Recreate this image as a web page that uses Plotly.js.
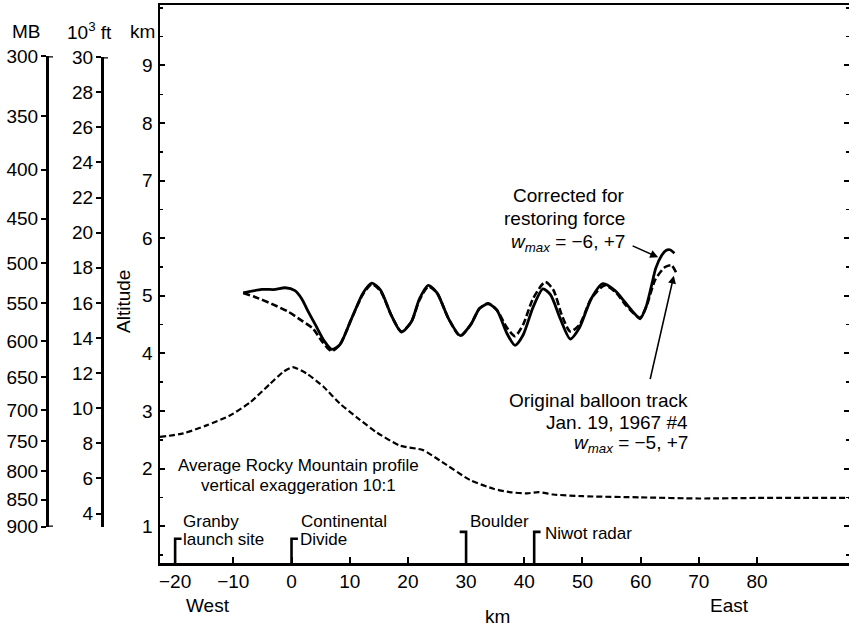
<!DOCTYPE html>
<html>
<head>
<meta charset="utf-8">
<script src="https://cdn.plot.ly/plotly-3.0.1.min.js"></script>
<style>
  html, body { margin: 0; padding: 0; background: #fff; }
  #chart { width: 849px; height: 627px; }
</style>
</head>
<body>
<div id="chart"></div>
<script>
// Horizontal distance in km (west negative, Continental Divide = 0), altitude in km
const terrainKm  = [-22.6, -18.6, -14.6, -10.6, -7.1, -3.7, -1.4, 0.2, 2.6, 5.5, 8.3, 11.2, 14.6, 18.6, 22.6, 25.5, 30.7, 34.7, 37.5, 40.5, 42.5, 45, 50, 60, 70, 80, 95.8];
const terrainAlt = [2.55, 2.61, 2.75, 2.92, 3.15, 3.47, 3.68, 3.76, 3.65, 3.42, 3.13, 2.89, 2.63, 2.40, 2.32, 2.14, 1.80, 1.65, 1.59, 1.57, 1.59, 1.55, 1.52, 1.50, 1.48, 1.49, 1.49];

// Balloon track corrected for restoring force (solid)
const correctedKm  = [-8.3, -5.1, -2.8, -1.1, 0.6, 1.75, 2.9, 4.3, 5.6, 6.9, 8.3, 10.3, 12.3, 13.8, 15.3, 17.2, 18.9, 20.6, 22.0, 23.5, 25.0, 27.0, 29.0, 30.8, 32.3, 33.8, 35.3, 37.0, 38.4, 39.8, 41.5, 43.2, 44.5, 46.2, 47.9, 49.5, 51.5, 53.5, 55.6, 57.3, 58.7, 59.9, 60.9, 61.8, 62.6, 63.6, 64.4, 65.0, 65.8];
const correctedAlt = [5.05, 5.11, 5.11, 5.14, 5.09, 4.95, 4.72, 4.46, 4.22, 4.07, 4.15, 4.60, 5.05, 5.22, 5.10, 4.65, 4.37, 4.55, 4.95, 5.18, 5.05, 4.60, 4.31, 4.50, 4.78, 4.86, 4.75, 4.35, 4.14, 4.32, 4.80, 5.12, 5.02, 4.60, 4.25, 4.45, 4.95, 5.21, 5.09, 4.89, 4.72, 4.60, 4.80, 5.15, 5.48, 5.70, 5.79, 5.80, 5.74];

// Original balloon track, Jan. 19, 1967 #4 (dashed)
const originalKm  = [-8.3, -6.3, -3.4, -0.5, 1.75, 3.7, 5.3, 6.9, 8.3, 10.3, 12.3, 13.8, 15.3, 17.2, 18.9, 20.6, 22.0, 23.5, 25.0, 27.0, 29.0, 30.8, 32.3, 33.8, 35.3, 37.0, 38.4, 39.8, 41.5, 43.6, 45.0, 46.5, 47.9, 49.5, 51.5, 53.8, 55.8, 57.5, 59.9, 61.0, 62.5, 64.2, 65.3, 66.2];
const originalAlt = [5.05, 4.98, 4.86, 4.72, 4.57, 4.43, 4.20, 4.04, 4.15, 4.60, 5.03, 5.20, 5.08, 4.65, 4.38, 4.55, 4.93, 5.16, 5.05, 4.60, 4.30, 4.50, 4.78, 4.87, 4.75, 4.45, 4.30, 4.50, 4.95, 5.24, 5.10, 4.65, 4.38, 4.50, 4.95, 5.18, 5.05, 4.83, 4.62, 4.82, 5.28, 5.50, 5.53, 5.38];

// Ground sites: Granby launch site, Continental Divide, Boulder, Niwot radar
const siteKm   = [-20, 0, 30, 41.7];
const siteTop  = [0.78, 0.78, 0.90, 0.90];
const siteFoot = [1, 1, -1, 1];

// Axis ticks
const xTickVals  = [-20, -10, 0, 10, 20, 30, 40, 50, 60, 70, 80];
const kmTickVals = [1, 2, 3, 4, 5, 6, 7, 8, 9];
const ftLabels   = [4, 6, 8, 10, 12, 14, 16, 18, 20, 22, 24, 26, 28, 30];
const mbLabels   = [300, 350, 400, 450, 500, 550, 600, 650, 700, 750, 800, 850, 900];
const mbAltKm    = [9.16, 8.12, 7.19, 6.34, 5.57, 4.87, 4.21, 3.59, 3.01, 2.47, 1.95, 1.46, 0.99];

// ---- geometry helpers ----
const W = 849, H = 627, MT = 5, MB = 64;
const plotH = H - MT - MB;
const xRange = [-22.6, 95.8];
const yRange = [0.36, 10.05];
const px = v => v / W;                       // pixel column -> paper x
const py = v => (H - MB - v) / plotH;        // pixel row -> paper y
const yFrac = a => (a - yRange[0]) / (yRange[1] - yRange[0]);
const FONT = 'Liberation Sans, Arial, Helvetica, sans-serif';
const INK = '#000';

const mbBottom = mbAltKm[mbAltKm.length - 1], mbTop = mbAltKm[0];
const ftTick = ftLabels.map(f => f * 0.3048);
const ftBottom = 0.99, ftTop = ftTick[ftTick.length - 1];

// site bracket polylines
const siteX = [], siteY = [];
siteKm.forEach((k, i) => {
  siteX.push(k, k, k + siteFoot[i] * 1.1, null);
  siteY.push(yRange[0], siteTop[i], siteTop[i], null);
});

const hidden = (yaxis, yv) => ({
  x: [xRange[0]], y: [yv], yaxis: yaxis, type: 'scatter', mode: 'markers',
  marker: { opacity: 0 }, hoverinfo: 'skip', showlegend: false
});

const traces = [
  { x: terrainKm, y: terrainAlt, type: 'scatter', mode: 'lines',
    line: { color: INK, width: 2.2, dash: '6px,3px', shape: 'spline', smoothing: 0.6 } },
  { x: originalKm, y: originalAlt, type: 'scatter', mode: 'lines',
    line: { color: INK, width: 2.6, dash: '7px,3px', shape: 'spline', smoothing: 0.7 } },
  { x: correctedKm, y: correctedAlt, type: 'scatter', mode: 'lines',
    line: { color: INK, width: 2.8, shape: 'spline', smoothing: 0.7 } },
  { x: siteX, y: siteY, type: 'scatter', mode: 'lines', cliponaxis: false,
    line: { color: INK, width: 2.6 } },
  hidden('y2', mbTop),
  hidden('y3', ftTop),
  hidden('y4', 5)
];

const tickFont = { family: FONT, size: 19, color: INK };

const ann = (text, x, y, opts) => Object.assign({
  text: text, xref: 'paper', yref: 'paper', x: px(x), y: py(y),
  xanchor: 'center', yanchor: 'middle', showarrow: false,
  font: { family: FONT, size: 19, color: INK }
}, opts || {});
const small = { family: FONT, size: 17, color: INK };

const annotations = [
  ann('MB', 27, 32),
  ann('10<sup>3</sup> ft', 89, 31),
  ann('km', 142, 32),
  ann('Altitude', 123, 302, { textangle: -90 }),
  ann('West', 208, 605),
  ann('East', 729, 605),
  ann('km', 497, 616),
  ann('Average Rocky Mountain profile', 298, 465, { font: small }),
  ann('vertical exaggeration 10:1', 298, 485, { font: small }),
  ann('Granby', 181, 521, { xanchor: 'left', font: small }),
  ann('launch site', 181, 539, { xanchor: 'left', font: small }),
  ann('Continental', 299, 521, { xanchor: 'left', font: small }),
  ann('Divide', 298, 539, { xanchor: 'left', font: small }),
  ann('Boulder', 468, 521, { xanchor: 'left', font: small }),
  ann('Niwot radar', 543, 533, { xanchor: 'left', font: small }),
  ann('Corrected for', 627, 195, { xanchor: 'right' }),
  ann('restoring force', 627, 219, { xanchor: 'right' }),
  ann('<i>w<sub>max</sub></i> = \u22126, +7', 627, 243, { xanchor: 'right' }),
  ann('Original balloon track', 690, 400, { xanchor: 'right' }),
  ann('Jan. 19, 1967 #4', 690, 422, { xanchor: 'right' }),
  ann('<i>w<sub>max</sub></i> = \u22125, +7', 690, 444, { xanchor: 'right' }),
  // arrows pointing at the two track ends
  { text: '', xref: 'x', yref: 'y', x: 63.0, y: 5.67, ax: -27, ay: -12,
    showarrow: true, arrowhead: 2, arrowsize: 1, arrowwidth: 1.6, arrowcolor: INK, standoff: 0 },
  { text: '', xref: 'x', yref: 'y', x: 65.7, y: 5.35, ax: -24, ay: 105,
    showarrow: true, arrowhead: 2, arrowsize: 1, arrowwidth: 1.6, arrowcolor: INK, standoff: 0 }
];

// short feet at the ends of the pressure and feet scales
const foot = (xpx, yref, yv) => ({
  type: 'line', xref: 'paper', yref: yref, x0: px(xpx), x1: px(xpx + 7), y0: yv, y1: yv,
  line: { color: INK, width: 2.5 }
});
const mbPos = 47, ftPos = 102;
const shapes = [
  foot(mbPos - 1, 'y2', mbTop),
  foot(mbPos - 1, 'y2', mbBottom),
  foot(ftPos - 1, 'y3', ftTop)
];

const scaleAxis = (pos, lo, hi, vals, text) => ({
  anchor: 'free', position: px(pos), side: 'left', overlaying: false,
  domain: [yFrac(lo), yFrac(hi)], range: [lo, hi],
  tickmode: 'array', tickvals: vals, ticktext: text,
  ticks: 'outside', ticklen: 5, tickwidth: 2, tickcolor: INK,
  showline: true, linewidth: 2.5, linecolor: INK, ticklabelstandoff: -1,
  showgrid: false, zeroline: false, tickfont: tickFont, fixedrange: true
});

const layout = {
  width: W, height: H,
  margin: { l: 0, r: 0, t: MT, b: MB, pad: 0 },
  paper_bgcolor: '#fff', plot_bgcolor: 'rgba(0,0,0,0)',
  showlegend: false,
  font: { family: FONT, color: INK },
  xaxis: {
    domain: [px(160), 1], range: xRange,
    tickmode: 'array', tickvals: xTickVals,
    ticks: 'inside', ticklen: 6, tickwidth: 2, tickcolor: INK,
    showline: true, linewidth: 2.5, linecolor: INK, mirror: true,
    showgrid: false, zeroline: false, tickfont: tickFont, ticklabelstandoff: 0
  },
  yaxis: {
    range: yRange, tickmode: 'array', tickvals: kmTickVals,
    ticks: 'inside', ticklen: 5, tickwidth: 2, tickcolor: INK,
    minor: { dtick: 0.5, tick0: 0, ticks: 'inside', ticklen: 3, tickwidth: 1.5, tickcolor: INK },
    showline: true, linewidth: 2.5, linecolor: INK,
    showgrid: false, zeroline: false, tickfont: tickFont, ticklabelstandoff: 1
  },
  yaxis2: scaleAxis(mbPos, mbBottom, mbTop, mbAltKm, mbLabels.map(String)),
  yaxis3: scaleAxis(ftPos, ftBottom, ftTop, ftTick, ftLabels.map(String)),
  yaxis4: {
    overlaying: 'y', side: 'right', anchor: 'x', range: yRange,
    tickmode: 'array', tickvals: kmTickVals,
    ticks: 'inside', ticklen: 5, tickwidth: 2, tickcolor: INK,
    minor: { dtick: 0.5, tick0: 0, ticks: 'inside', ticklen: 3, tickwidth: 1.5, tickcolor: INK },
    showline: false, showticklabels: false, showgrid: false, zeroline: false
  },
  annotations: annotations,
  shapes: shapes
};

Plotly.newPlot('chart', traces, layout, { staticPlot: true, displayModeBar: false });
</script>
</body>
</html>
